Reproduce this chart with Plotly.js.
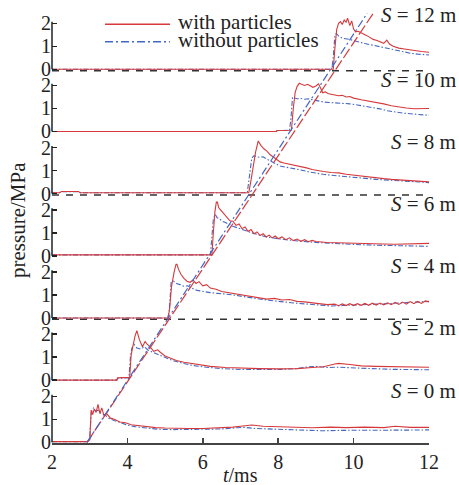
<!DOCTYPE html>
<html>
<head>
<meta charset="utf-8">
<script src="https://cdn.plot.ly/plotly-3.0.1.min.js"></script>
<style>html,body{margin:0;padding:0;background:#fff;}#chart{width:459px;height:485px;}</style>
</head>
<body>
<div id="chart"></div>
<script>
// ---------------- DATA ----------------
const distances = [0, 2, 4, 6, 8, 10, 12];           // S (m), bottom to top
const xTicks = [2, 4, 6, 8, 10, 12];                   // t (ms)
const yTicks = [0, 1, 2];                              // pressure (MPa)

// S = 0 m
const tWith_S0 = [2, 2.93, 3.0, 3.04, 3.08, 3.12, 3.17, 3.22, 3.27, 3.32, 3.38, 3.45, 3.55, 3.65, 3.8, 3.95, 4.1, 4.3, 4.5, 4.75, 5.0, 5.3, 5.6, 6.0, 6.4, 6.8, 7.0, 7.3, 7.6, 8.0, 8.4, 8.9, 9.4, 9.8, 10.3, 10.8, 11.1, 11.5, 12];
const pWith_S0 = [0.03, 0.03, 0.1, 1.4, 1.2, 1.45, 1.3, 1.65, 1.25, 1.5, 1.15, 1.25, 1.05, 1.0, 0.88, 0.85, 0.76, 0.72, 0.67, 0.64, 0.62, 0.6, 0.6, 0.6, 0.62, 0.66, 0.7, 0.75, 0.7, 0.68, 0.66, 0.63, 0.66, 0.64, 0.66, 0.64, 0.7, 0.65, 0.65];
const tWithout_S0 = [2, 2.93, 3.0, 3.04, 3.1, 3.16, 3.22, 3.3, 3.4, 3.5, 3.65, 3.8, 4.0, 4.2, 4.5, 4.8, 5.2, 5.6, 6.0, 6.5, 6.9, 7.1, 7.4, 7.8, 8.2, 8.7, 9.2, 9.7, 10.2, 10.8, 11.4, 12];
const pWithout_S0 = [0.03, 0.03, 0.1, 1.3, 1.5, 1.35, 1.4, 1.25, 1.2, 1.05, 0.95, 0.85, 0.75, 0.68, 0.62, 0.57, 0.55, 0.55, 0.56, 0.58, 0.63, 0.65, 0.6, 0.58, 0.55, 0.53, 0.5, 0.52, 0.53, 0.55, 0.53, 0.54];

// S = 2 m
const tWith_S2 = [2, 3.72, 3.74, 4.06, 4.1, 4.14, 4.2, 4.25, 4.32, 4.4, 4.47, 4.53, 4.6, 4.7, 4.8, 4.88, 5.0, 5.15, 5.3, 5.5, 5.7, 5.9, 6.2, 6.6, 7.0, 7.5, 8.0, 8.5, 8.9, 9.2, 9.5, 9.6, 9.9, 10.2, 10.6, 11.0, 11.5, 12];
const pWith_S2 = [0, 0, 0.1, 0.12, 1.1, 1.5, 1.9, 2.15, 1.75, 1.45, 1.68, 1.55, 1.45, 1.25, 1.32, 1.2, 1.05, 0.95, 0.85, 0.78, 0.72, 0.66, 0.6, 0.55, 0.52, 0.5, 0.49, 0.5, 0.55, 0.58, 0.7, 0.73, 0.68, 0.62, 0.6, 0.58, 0.57, 0.56];
const tWithout_S2 = [2, 3.72, 3.74, 4.04, 4.08, 4.12, 4.18, 4.25, 4.35, 4.45, 4.55, 4.7, 4.85, 5.0, 5.2, 5.5, 5.8, 6.1, 6.5, 7.0, 7.5, 8.0, 8.5, 8.8, 9.0, 9.3, 9.6, 10.0, 10.5, 11.0, 11.5, 12];
const pWithout_S2 = [0, 0, 0.08, 0.1, 1.0, 1.4, 1.55, 1.4, 1.35, 1.45, 1.3, 1.2, 1.1, 1.0, 0.85, 0.72, 0.62, 0.56, 0.5, 0.46, 0.45, 0.46, 0.5, 0.58, 0.6, 0.55, 0.56, 0.52, 0.5, 0.47, 0.46, 0.45];

// S = 4 m
const tWith_S4 = [2, 5.08, 5.12, 5.17, 5.24, 5.3, 5.36, 5.42, 5.5, 5.58, 5.66, 5.74, 5.82, 5.9, 6.0, 6.1, 6.2, 6.35, 6.5, 6.7, 6.9, 7.1, 7.3, 7.5, 7.7, 7.9, 8.1, 8.3, 8.5, 8.7, 8.9, 9.1, 9.3, 9.5, 9.6, 9.7, 9.8, 9.9, 10.0, 10.1, 10.2, 10.3, 10.4, 10.5, 10.6, 10.7, 10.8, 10.9, 11.0, 11.1, 11.2, 11.3, 11.4, 11.5, 11.6, 11.7, 11.8, 11.9, 12];
const pWith_S4 = [0, 0, 0.4, 1.36, 2.0, 2.4, 2.1, 1.9, 1.72, 1.6, 1.55, 1.65, 1.5, 1.58, 1.4, 1.45, 1.3, 1.25, 1.15, 1.1, 1.05, 1.0, 0.95, 0.9, 0.82, 0.85, 0.78, 0.8, 0.72, 0.7, 0.65, 0.62, 0.58, 0.6, 0.53, 0.61, 0.54, 0.62, 0.54, 0.62, 0.55, 0.63, 0.55, 0.64, 0.56, 0.65, 0.57, 0.66, 0.58, 0.68, 0.59, 0.69, 0.6, 0.71, 0.62, 0.72, 0.63, 0.74, 0.7];
const tWithout_S4 = [2, 5.07, 5.11, 5.16, 5.22, 5.3, 5.4, 5.5, 5.6, 5.7, 5.85, 6.0, 6.2, 6.4, 6.6, 6.8, 7.0, 7.3, 7.6, 7.9, 8.2, 8.5, 8.8, 9.1, 9.4, 9.7, 10.0, 10.3, 10.6, 10.9, 11.2, 11.5, 11.8, 12];
const pWithout_S4 = [0, 0, 0.3, 1.55, 1.6, 1.5, 1.45, 1.38, 1.4, 1.3, 1.2, 1.15, 1.1, 1.07, 1.05, 1.0, 0.95, 0.86, 0.8, 0.74, 0.68, 0.64, 0.6, 0.55, 0.52, 0.54, 0.55, 0.57, 0.6, 0.62, 0.66, 0.68, 0.7, 0.72];

// S = 6 m
const tWith_S6 = [2, 6.24, 6.28, 6.32, 6.37, 6.42, 6.47, 6.52, 6.58, 6.65, 6.72, 6.8, 6.88, 6.96, 7.04, 7.12, 7.2, 7.28, 7.36, 7.44, 7.52, 7.6, 7.68, 7.76, 7.84, 7.92, 8.0, 8.1, 8.2, 8.3, 8.4, 8.5, 8.6, 8.7, 8.8, 8.9, 9.0, 9.3, 9.6, 9.9, 10.2, 10.5, 10.8, 11.1, 11.4, 11.7, 12];
const pWith_S6 = [0.04, 0.04, 1.0, 1.9, 2.46, 2.1, 2.0, 1.9, 1.75, 1.65, 1.52, 1.5, 1.32, 1.38, 1.18, 1.25, 1.06, 1.14, 0.96, 1.04, 0.88, 0.96, 0.82, 0.9, 0.78, 0.86, 0.74, 0.82, 0.7, 0.78, 0.66, 0.73, 0.63, 0.7, 0.61, 0.67, 0.62, 0.58, 0.56, 0.55, 0.53, 0.52, 0.51, 0.5, 0.51, 0.52, 0.54];
const tWithout_S6 = [2, 6.2, 6.24, 6.28, 6.33, 6.38, 6.45, 6.52, 6.6, 6.7, 6.8, 6.95, 7.1, 7.3, 7.5, 7.7, 8.0, 8.3, 8.6, 9.0, 9.4, 9.8, 10.2, 10.6, 11.0, 11.5, 12];
const pWithout_S6 = [0.04, 0.04, 0.8, 1.6, 1.8, 1.65, 1.6, 1.5, 1.45, 1.35, 1.28, 1.2, 1.1, 1.0, 0.9, 0.82, 0.74, 0.68, 0.63, 0.58, 0.54, 0.51, 0.48, 0.46, 0.44, 0.42, 0.41];

// S = 8 m
const tWith_S8 = [2, 2.2, 2.25, 2.7, 2.75, 7.22, 7.28, 7.34, 7.4, 7.47, 7.54, 7.62, 7.7, 7.78, 7.87, 7.95, 8.05, 8.15, 8.3, 8.45, 8.6, 8.75, 8.9, 9.05, 9.2, 9.4, 9.6, 9.8, 10.0, 10.2, 10.4, 10.6, 10.8, 11.0, 11.2, 11.4, 11.6, 11.8, 12];
const pWith_S8 = [0.04, 0.04, 0.09, 0.09, 0.04, 0.04, 0.6, 1.2, 1.8, 2.29, 2.1, 1.95, 1.85, 1.7, 1.58, 1.48, 1.38, 1.33, 1.28, 1.25, 1.2, 1.12, 1.05, 1.0, 0.96, 0.92, 0.9, 0.84, 0.8, 0.74, 0.7, 0.68, 0.65, 0.62, 0.6, 0.57, 0.54, 0.52, 0.51];
const tWithout_S8 = [2, 2.2, 2.25, 2.7, 2.75, 7.18, 7.24, 7.3, 7.36, 7.42, 7.5, 7.6, 7.7, 7.8, 7.92, 8.05, 8.2, 8.4, 8.6, 8.8, 9.0, 9.2, 9.4, 9.7, 10.0, 10.3, 10.6, 11.0, 11.4, 11.8, 12];
const pWithout_S8 = [0.04, 0.04, 0.08, 0.08, 0.04, 0.04, 0.8, 1.55, 1.65, 1.6, 1.58, 1.6, 1.5, 1.42, 1.3, 1.2, 1.15, 1.1, 1.03, 0.95, 0.88, 0.84, 0.8, 0.75, 0.7, 0.66, 0.62, 0.58, 0.54, 0.5, 0.48];

// S = 10 m
const tWith_S10 = [2, 7.95, 7.97, 8.35, 8.4, 8.45, 8.5, 8.56, 8.62, 8.7, 8.78, 8.85, 8.92, 9.0, 9.07, 9.12, 9.18, 9.25, 9.32, 9.4, 9.5, 9.6, 9.7, 9.8, 9.9, 10.0, 10.2, 10.4, 10.6, 10.8, 11.0, 11.2, 11.4, 11.6, 11.8, 12];
const pWith_S10 = [0, 0, 0.04, 0.05, 1.0, 1.7, 1.95, 2.1, 2.05, 2.0, 2.05, 2.0, 1.92, 1.98, 2.07, 1.9, 1.68, 1.72, 1.65, 1.62, 1.6, 1.55, 1.57, 1.5, 1.52, 1.45, 1.38, 1.33, 1.28, 1.2, 1.12, 1.06, 1.02, 0.99, 0.98, 1.0];
const tWithout_S10 = [2, 7.95, 7.97, 8.3, 8.34, 8.38, 8.44, 8.5, 8.6, 8.7, 8.8, 8.9, 9.0, 9.1, 9.2, 9.35, 9.5, 9.7, 9.9, 10.1, 10.3, 10.5, 10.7, 10.9, 11.1, 11.3, 11.5, 11.7, 11.9, 12];
const pWithout_S10 = [0, 0, 0.04, 0.05, 0.6, 1.5, 1.45, 1.42, 1.43, 1.4, 1.42, 1.38, 1.35, 1.3, 1.28, 1.26, 1.25, 1.22, 1.2, 1.15, 1.1, 1.05, 0.98, 0.9, 0.84, 0.8, 0.77, 0.74, 0.71, 0.7];

// S = 12 m
const tWith_S12 = [2, 9.46, 9.5, 9.55, 9.6, 9.65, 9.7, 9.75, 9.8, 9.84, 9.9, 9.95, 10.0, 10.05, 10.12, 10.2, 10.3, 10.4, 10.52, 10.62, 10.72, 10.8, 10.88, 10.95, 11.05, 11.2, 11.35, 11.5, 11.65, 11.8, 12];
const pWith_S12 = [0, 0, 0.84, 1.71, 2.0, 2.07, 1.95, 2.14, 2.05, 2.22, 1.9, 2.1, 1.75, 1.63, 1.65, 1.57, 1.5, 1.42, 1.3, 1.25, 1.18, 1.13, 1.27, 1.1, 1.0, 0.92, 0.88, 0.84, 0.8, 0.77, 0.74];
const tWithout_S12 = [2, 9.42, 9.46, 9.5, 9.54, 9.6, 9.7, 9.8, 9.9, 10.0, 10.1, 10.2, 10.3, 10.5, 10.7, 10.9, 11.1, 11.3, 11.5, 11.7, 11.85, 12];
const pWithout_S12 = [0, 0, 0.5, 1.4, 1.56, 1.45, 1.35, 1.34, 1.3, 1.25, 1.2, 1.15, 1.12, 1.05, 0.98, 0.9, 0.82, 0.76, 0.7, 0.66, 0.64, 0.62];

// wave-front arrival lines (t in ms, S in m)
const frontT_with = [2.93, 10.52];
const frontS_with = [0, 13.8];
const frontT_without = [2.93, 10.36];
const frontS_without = [0, 13.8];

// ---------------- LAYOUT / DRAWING ----------------
const panels = [
  [tWith_S0, pWith_S0, tWithout_S0, pWithout_S0],
  [tWith_S2, pWith_S2, tWithout_S2, pWithout_S2],
  [tWith_S4, pWith_S4, tWithout_S4, pWithout_S4],
  [tWith_S6, pWith_S6, tWithout_S6, pWithout_S6],
  [tWith_S8, pWith_S8, tWithout_S8, pWithout_S8],
  [tWith_S10, pWith_S10, tWithout_S10, pWithout_S10],
  [tWith_S12, pWith_S12, tWithout_S12, pWithout_S12]
];

const RED = '#d6393b', BLUE = '#4466c4', INK = '#222222';
const FONT = "'Liberation Serif', serif";
const L = 52, R = 429, T = 5, B = 443;
const PX = v => (v - L) / (R - L);
const PY = v => (B - v) / (B - T);
const zeroPx = k => 442.3 - 62.17 * k;
const ppm = 23;
const sPerPx = 12 / (zeroPx(0) - zeroPx(6));

const traces = [];
const layout = {
  width: 459, height: 485,
  margin: {l: L, r: 459 - R, t: T, b: 485 - B, pad: 0},
  paper_bgcolor: '#fff', plot_bgcolor: 'rgba(0,0,0,0)',
  showlegend: false,
  font: {family: FONT, size: 20, color: INK},
  xaxis: {
    range: [2, 12], tickvals: xTicks, ticks: 'inside', ticklen: 5, tickwidth: 1.5, tickcolor: '#444',
    showline: true, linecolor: '#444', linewidth: 1.5, showgrid: false, zeroline: false,
    anchor: 'y', tickfont: {family: FONT, size: 20, color: INK}
  },
  shapes: [], annotations: []
};

panels.forEach((p, k) => {
  const z = zeroPx(k);
  const bot = k === 0 ? B : z + 8;
  const top = k === 6 ? T : z - 54.17;
  const name = k === 0 ? 'yaxis' : 'yaxis' + (k + 1);
  const ref = k === 0 ? 'y' : 'y' + (k + 1);
  layout[name] = {
    domain: [Math.max(0, PY(bot)), Math.min(1, PY(top))],
    range: [-(bot - z) / ppm, (z - top) / ppm],
    tickvals: yTicks, ticks: 'inside', ticklen: 5, tickwidth: 1.5, tickcolor: INK,
    showline: false, showgrid: false, zeroline: false, anchor: 'x',
    tickfont: {family: FONT, size: 20, color: INK}
  };
  traces.push({x: p[2], y: p[3], xaxis: 'x', yaxis: ref, mode: 'lines', name: 'without particles',
    line: {color: BLUE, width: 1.1, dash: '5px,2px,1.5px,2px'}});
  traces.push({x: p[0], y: p[1], xaxis: 'x', yaxis: ref, mode: 'lines', name: 'with particles',
    line: {color: RED, width: 1.1}});
  // bracket axis line
  layout.shapes.push({type: 'line', xref: 'paper', yref: ref, x0: 0, x1: 0, y0: 0, y1: 2.07,
    line: {color: INK, width: 1.5}});
  // dashed zero reference for S = 4, 8, 12
  if (k === 2 || k === 4 || k === 6) {
    layout.shapes.push({type: 'line', layer: 'below', xref: 'x', yref: ref, x0: 2, x1: 12, y0: -0.06, y1: -0.06,
      line: {color: '#333', width: 1.5, dash: '7px,7px'}});
  }
  layout.annotations.push({xref: 'paper', yref: ref, x: PX(458), y: k === 6 ? 2.35 : 2.25,
    xanchor: 'right', yanchor: 'middle', showarrow: false,
    text: '<i>S</i> = ' + distances[k] + ' m', font: {family: FONT, size: 21, color: INK}});
});

// overlay axis for wave-front lines
layout.yaxis8 = {domain: [0, 1], range: [(zeroPx(0) - B) * sPerPx, (zeroPx(0) - T) * sPerPx],
  visible: false, anchor: 'x', fixedrange: true};
traces.push({x: frontT_with, y: frontS_with, xaxis: 'x', yaxis: 'y8', mode: 'lines',
  line: {color: RED, width: 1.2, dash: '11px,3px'}, name: 'front with particles'});
traces.push({x: frontT_without, y: frontS_without, xaxis: 'x', yaxis: 'y8', mode: 'lines',
  line: {color: BLUE, width: 1.2, dash: '8px,3px,2px,3px'}, name: 'front without particles'});

// manual legend
layout.shapes.push({type: 'line', xref: 'paper', yref: 'paper', x0: PX(105), x1: PX(170), y0: PY(24.3), y1: PY(24.3),
  line: {color: RED, width: 1.5}});
layout.shapes.push({type: 'line', xref: 'paper', yref: 'paper', x0: PX(105), x1: PX(170), y0: PY(41.7), y1: PY(41.7),
  line: {color: BLUE, width: 1.5, dash: '8px,3px,2px,3px'}});
layout.annotations.push({xref: 'paper', yref: 'paper', x: PX(176), y: PY(22), xanchor: 'left', yanchor: 'middle',
  showarrow: false, text: 'with particles', font: {family: FONT, size: 21, color: INK}});
layout.annotations.push({xref: 'paper', yref: 'paper', x: PX(176), y: PY(40), xanchor: 'left', yanchor: 'middle',
  showarrow: false, text: 'without particles', font: {family: FONT, size: 21, color: INK}});

// axis titles
layout.annotations.push({xref: 'paper', yref: 'paper', x: PX(240), y: PY(475), xanchor: 'center', yanchor: 'middle',
  showarrow: false, text: '<i>t</i>/ms', font: {family: FONT, size: 20, color: INK}});
layout.annotations.push({xref: 'paper', yref: 'paper', x: PX(18), y: PY(220), xanchor: 'center', yanchor: 'middle',
  showarrow: false, textangle: -90, text: 'pressure/MPa', font: {family: FONT, size: 21, color: INK}});

Plotly.newPlot('chart', traces, layout, {staticPlot: true, displayModeBar: false});
</script>
</body>
</html>
